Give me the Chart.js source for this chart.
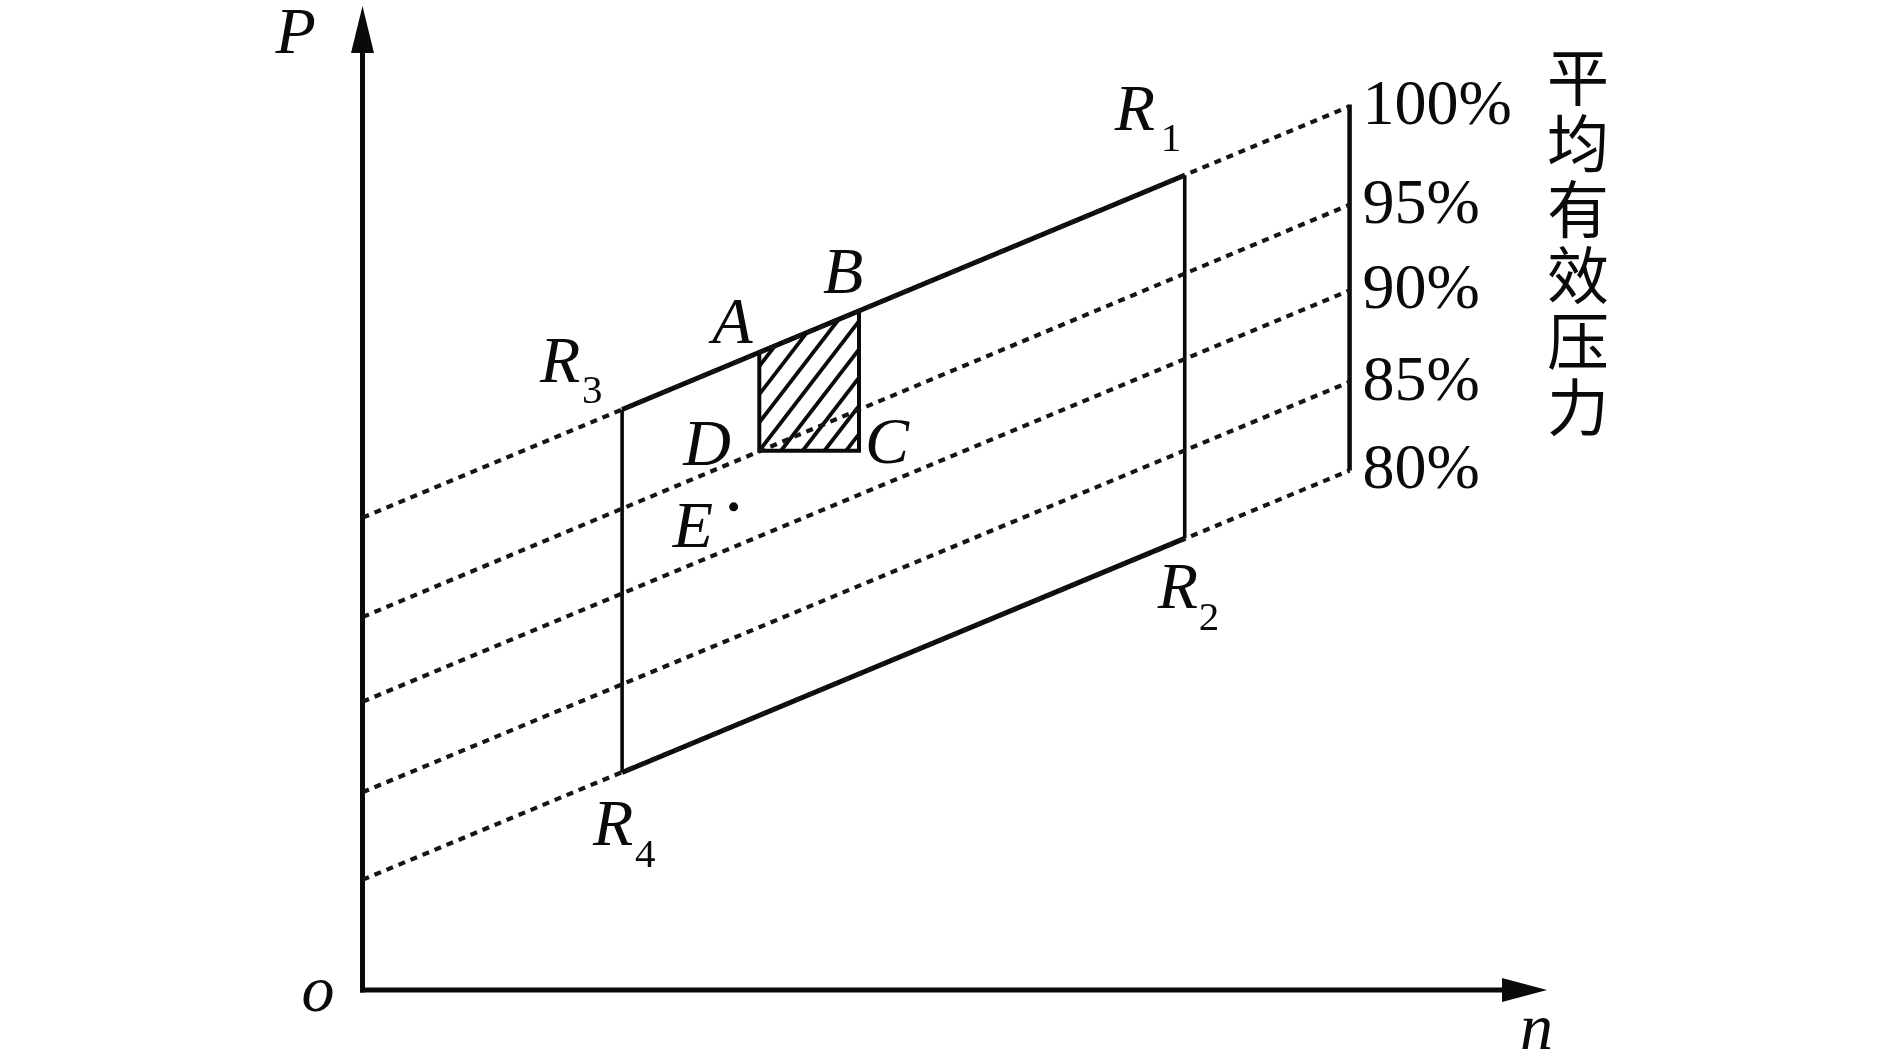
<!DOCTYPE html>
<html><head><meta charset="utf-8">
<script src="https://cdn.jsdelivr.net/npm/chart.js@4/dist/chart.umd.min.js"></script>
<style>html,body{margin:0;padding:0;background:#fff;overflow:hidden}canvas{display:block}</style>
</head><body>
<canvas id="c" width="1890" height="1056"></canvas>
<script>
// ---------------- data ----------------
const nRange = [0, 120];                 // speed axis n
const pRange = [0, 100];                 // pressure axis P
const axisNames = ['P', 'n', 'o'];
const sideTitle = '平均有效压力';

const levelLabels = ['100%', '95%', '90%', '85%', '80%'];
const levelStartN = [0, 0, 0, 0, 0];
const levelStartP = [48.0, 37.9, 29.3, 20.1, 11.2];
const levelEndN   = [100, 100, 100, 100, 100];
const levelEndP   = [89.8, 79.8, 71.1, 61.8, 52.8];

const barN = [100, 100];                 // vertical bar at right end of the level lines
const barP = [52.8, 90.0];

const regionNames = ['R1', 'R2', 'R3', 'R4'];
const regionN = [83.3, 83.3, 26.3, 26.3];
const regionP = [82.8, 45.9, 59.0, 22.1];

const cellNames = ['A', 'B', 'C', 'D'];
const cellN = [40.2, 50.3, 50.3, 40.2];
const cellP = [64.8, 69.0, 54.8, 54.8];

const pointNames = ['E'];
const pointN = [37.6];
const pointP = [49.1];

// ---------------- styles ----------------
const INK = '#0a0a0a';
const SERIF = '"Liberation Serif", "Times New Roman", serif';
const CJK = '"Noto Sans CJK SC", "Noto Sans CJK TC", sans-serif';

const pt = (n, p) => ({ x: n, y: p });
const seg = (a, b, style) => Object.assign({
  data: [a, b], showLine: true, pointRadius: 0, borderColor: INK,
  borderWidth: 3.5, borderCapStyle: 'butt', clip: false, fill: false
}, style);

const datasets = [];
// dotted constant mean-effective-pressure lines
for (let i = 0; i < levelLabels.length; i++) {
  datasets.push(seg(pt(levelStartN[i], levelStartP[i]), pt(levelEndN[i], levelEndP[i]),
    { borderDash: [7, 6], borderWidth: 4.2, borderColor: '#151515' }));
}
// right bar
datasets.push(seg(pt(barN[0], barP[0]), pt(barN[1], barP[1]), { borderWidth: 4.5 }));
// region R1..R4
const R = i => pt(regionN[i], regionP[i]);
datasets.push(seg(R(2), R(0), { borderWidth: 5 }));     // R3 - R1
datasets.push(seg(R(3), R(1), { borderWidth: 5 }));     // R4 - R2
datasets.push(seg(R(0), R(1), { borderWidth: 3.6 }));   // R1 - R2
datasets.push(seg(R(2), R(3), { borderWidth: 3.6 }));   // R3 - R4
// cell ABCD outline
const C = i => pt(cellN[i], cellP[i]);
datasets.push({
  data: [C(0), C(1), C(2), C(3), C(0)], showLine: true, pointRadius: 0,
  borderColor: INK, borderWidth: 4, clip: false, fill: false
});
// point E
datasets.push({
  data: [pt(pointN[0], pointP[0])], showLine: false, pointRadius: 4.5,
  pointBackgroundColor: INK, pointBorderWidth: 0, clip: false
});
// axes
datasets.push(seg(pt(0, 0), pt(0, pRange[1] - 4), { borderWidth: 5, borderCapStyle: 'square' }));
datasets.push(seg(pt(0, 0), pt(nRange[1] - 4, 0), { borderWidth: 5, borderCapStyle: 'square' }));

// ---------------- plugin: hatching, arrows, texts ----------------
const LETTER = 'italic 66px ' + SERIF;
const SUB = '41px ' + SERIF;
const labelOffsets = {   // pixel offsets from anchor: [dx, dy, subDx, subDy]
  R1: [-70, -45, -24, -24], R2: [-27, 70, 14, 92],
  R3: [-82, -27, -40, -6],  R4: [-29, 72, 13, 94],
  A: [-47, -9], B: [-36, -18], C: [6, 12], D: [-76, 14], E: [-61, 40]
};

const decor = {
  id: 'decor',
  beforeDatasetsDraw(chart) {
    const { ctx, scales: { x, y } } = chart;
    const px = i => [x.getPixelForValue(cellN[i]), y.getPixelForValue(cellP[i])];
    const pts = [0, 1, 2, 3].map(px);
    ctx.save();
    ctx.beginPath();
    pts.forEach((q, k) => k ? ctx.lineTo(q[0], q[1]) : ctx.moveTo(q[0], q[1]));
    ctx.closePath();
    ctx.clip();
    const xs = pts.map(q => q[0]), ys = pts.map(q => q[1]);
    const maxX = Math.max(...xs);
    const minY = Math.min(...ys), maxY = Math.max(...ys);
    const slope = 1.3, step = 21.7;
    const h = maxY - minY;
    ctx.strokeStyle = INK; ctx.lineWidth = 3.8;
    const x0 = pts[3][0];
    for (let s = x0 - Math.ceil((h / slope) / step + 2) * step; s < maxX + step; s += step) {
      ctx.beginPath();
      ctx.moveTo(s, maxY);
      ctx.lineTo(s + h / slope, minY);
      ctx.stroke();
    }
    ctx.restore();
  },
  afterDatasetsDraw(chart) {
    const { ctx, scales: { x, y } } = chart;
    const X = v => x.getPixelForValue(v), Y = v => y.getPixelForValue(v);
    ctx.save();
    ctx.fillStyle = INK;
    // arrow heads
    const ox = X(0), oy = Y(0), ty = Y(pRange[1]), tx = X(nRange[1]);
    ctx.beginPath();
    ctx.moveTo(ox, ty); ctx.lineTo(ox - 11.5, ty + 47); ctx.lineTo(ox + 11.5, ty + 47); ctx.closePath(); ctx.fill();
    ctx.beginPath();
    ctx.moveTo(tx, oy); ctx.lineTo(tx - 45, oy - 12); ctx.lineTo(tx - 45, oy + 12); ctx.closePath(); ctx.fill();

    ctx.textBaseline = 'alphabetic';
    ctx.textAlign = 'left';
    // axis names
    ctx.font = LETTER;
    ctx.fillText(axisNames[0], ox - 87, ty + 47);
    ctx.fillText(axisNames[1], tx - 27, oy + 59);
    ctx.fillText(axisNames[2], ox - 61, oy + 21);

    // region labels with subscripts
    regionNames.forEach((name, i) => {
      const o = labelOffsets[name];
      const ax = X(regionN[i]), ay = Y(regionP[i]);
      ctx.font = LETTER;
      ctx.fillText(name[0], ax + o[0], ay + o[1]);
      ctx.font = SUB;
      ctx.fillText(name.slice(1), ax + o[2], ay + o[3]);
    });
    // cell labels
    ctx.font = LETTER;
    cellNames.forEach((name, i) => {
      const o = labelOffsets[name];
      ctx.fillText(name, X(cellN[i]) + o[0], Y(cellP[i]) + o[1]);
    });
    pointNames.forEach((name, i) => {
      const o = labelOffsets[name];
      ctx.fillText(name, X(pointN[i]) + o[0], Y(pointP[i]) + o[1]);
    });
    // level labels
    ctx.font = '64px ' + SERIF;
    levelLabels.forEach((t, i) => {
      ctx.fillText(t, X(levelEndN[i]) + 13, Y(levelEndP[i]) + 18);
    });
    // side title, vertical
    ctx.font = '62px ' + CJK;
    ctx.textAlign = 'center';
    ctx.textBaseline = 'middle';
    const cx = X(nRange[1]) + 31;
    [...sideTitle].forEach((ch, k) => ctx.fillText(ch, cx, 77 + k * 66));
    ctx.restore();
  }
};

new Chart(document.getElementById('c'), {
  type: 'scatter',
  data: { datasets },
  options: {
    responsive: false, animation: false, events: [],
    layout: { padding: { left: 362.5, right: 343, top: 6, bottom: 66 } },
    scales: {
      x: { type: 'linear', min: nRange[0], max: nRange[1], display: false },
      y: { type: 'linear', min: pRange[0], max: pRange[1], display: false }
    },
    plugins: { legend: { display: false }, tooltip: { enabled: false } }
  },
  plugins: [decor]
});
</script>
</body></html>
